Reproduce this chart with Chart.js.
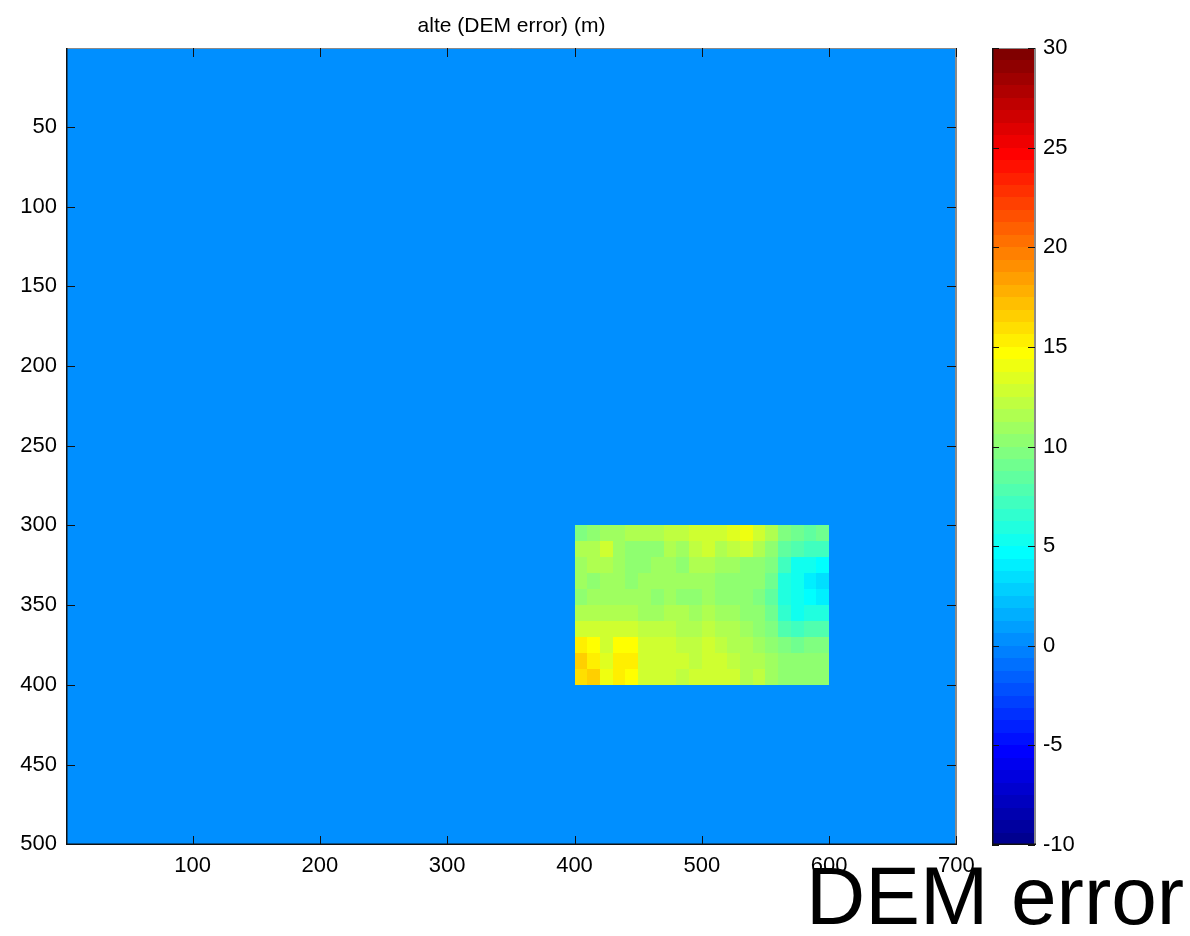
<!DOCTYPE html>
<html>
<head>
<meta charset="utf-8">
<script src="https://cdn.jsdelivr.net/npm/chart.js@4/dist/chart.umd.min.js"></script>
<style>
html,body{margin:0;padding:0;background:#fff;}
#wrap{position:relative;width:1190px;height:936px;overflow:hidden;background:#fff;}
#main{position:absolute;left:0;top:0;}
#cbar{position:absolute;left:980px;top:0;}
#big{position:absolute;left:806px;top:855px;font-family:"Liberation Sans",Arial,sans-serif;font-size:82px;line-height:82px;color:#000;white-space:nowrap;}
</style>
</head>
<body>
<div id="wrap">
<canvas id="main" width="1190" height="936"></canvas>
<canvas id="cbar" width="210" height="936"></canvas>
<div id="big">DEM error</div>
</div>
<script>
// ---------- data ----------
const chartTitle = "alte (DEM error) (m)";
const xTicks = [100, 200, 300, 400, 500, 600, 700];
const yTicks = [50, 100, 150, 200, 250, 300, 350, 400, 450, 500];
const cbTicks = [-10, -5, 0, 5, 10, 15, 20, 25, 30];
const cbMin = -10, cbMax = 30;

// full grid (columns 1..700, rows 1..500) filled with the background value
const gridCols = [1, 700];
const gridRows = [1, 500];
const backgroundValue = 0;

// patch of DEM error, cell centres
const patchColCenters = [405,415,425,435,445,455,465,475,485,495,505,515,525,535,545,555,565,575,585,595];
const patchRowCenters = [305,315,325,335,345,355,365,375,385,395];
const patchRow0 = [9.5,10.5,11,11,11.5,11.5,11.5,12,12,12.5, 12.5,12.5,13.5,14,12.5,11.5,9.5,9,8.5,9];
const patchRow1 = [11.5,11.5,12.5,11,10.5,10,10.5,11.5,11,12, 12.5,11.5,12,13,11.5,10.5,8.5,7.5,7,7];
const patchRow2 = [11,11.5,11.5,11,10.5,10.5,11,11,10.5,11.5, 11.5,11,11,10.5,10.5,9.5,7,5.5,5,4.5];
const patchRow3 = [11,10.5,11,11,10.5,11,11,11,11,11, 11,10.5,10.5,10,10,9,6,5,4,3.5];
const patchRow4 = [10.5,11,11,11,11,11,10.5,11,10.5,10.5, 11,10.5,10.5,10,9.5,8.5,6,5,4.5,4];
const patchRow5 = [11.5,11.5,11.5,11.5,11.5,11,11,11.5,11.5,11, 11.5,11,11,10.5,10,9,6.5,5,6,6];
const patchRow6 = [13,13,12.5,12.5,12.5,12,12,12,11.5,11.5, 12,11.5,11.5,11,10.5,9.5,8,7,7.5,8];
const patchRow7 = [15.5,14.5,13,14.5,14.5,13,12.5,12.5,12,12, 12.5,12,11.5,11.5,11,10.5,9.5,9,9.5,9.5];
const patchRow8 = [16.5,15.5,13.5,15,15,13,12.5,12.5,12.5,12, 13,12.5,12,11.5,11.5,11,10.5,10,10,10.5];
const patchRow9 = [16,16.5,14,15,14.5,13,13,12.5,12,12.5, 13,12.5,12.5,11.5,12,11,10.5,10.5,10.5,10.5];
const patchValues = [patchRow0,patchRow1,patchRow2,patchRow3,patchRow4,patchRow5,patchRow6,patchRow7,patchRow8,patchRow9];

// ---------- jet colormap (64 levels, MATLAB style) ----------
function jetRow(k){
  const K = k + 1;
  const u = j => j <= 16 ? j/16 : (j <= 31 ? 1 : (48 - j)/16);
  const g = (K >= 9 && K <= 55) ? u(K - 8) : 0;
  const r = (K >= 25) ? u(K - 24) : 0;
  const b = (K <= 39) ? u(K + 8) : 0;
  return 'rgb(' + Math.round(r*255) + ',' + Math.round(g*255) + ',' + Math.round(b*255) + ')';
}
function colorFor(v){
  let k = Math.floor((v - cbMin) / (cbMax - cbMin) * 64);
  if (k < 0) k = 0; if (k > 63) k = 63;
  return jetRow(k);
}

// ---------- build cells ----------
function edgesFrom(centers){
  const e = [];
  for (let i = 0; i < centers.length; i++){
    const prev = i > 0 ? centers[i-1] : centers[i] - (centers[1] - centers[0]);
    e.push((prev + centers[i]) / 2);
  }
  const n = centers.length;
  e.push(centers[n-1] + (centers[n-1] - centers[n-2]) / 2);
  return e;
}
const cells = [];
cells.push({x0: gridCols[0]-0.5, x1: gridCols[1]+0.5, y0: gridRows[0]-0.5, y1: gridRows[1]+0.5, v: backgroundValue});
const pxE = edgesFrom(patchColCenters), pyE = edgesFrom(patchRowCenters);
patchValues.forEach((row, i) => row.forEach((v, j) => {
  cells.push({x0: pxE[j], x1: pxE[j+1], y0: pyE[i], y1: pyE[i+1], v: v, x: patchColCenters[j], y: patchRowCenters[i]});
}));

const FONT = {family: '"Liberation Sans", Arial, sans-serif', size: 22};

function drawFrame(ctx, a){
  ctx.lineWidth = 1;
  ctx.strokeStyle = '#8a8a8a';
  ctx.beginPath();
  ctx.moveTo(a.left, a.top + 0.5); ctx.lineTo(a.right, a.top + 0.5);
  ctx.stroke();
  ctx.lineWidth = 2;
  ctx.beginPath();
  ctx.moveTo(a.right - 1, a.top); ctx.lineTo(a.right - 1, a.bottom);
  ctx.stroke();
  ctx.strokeStyle = '#111';
  ctx.lineWidth = 1.5;
  ctx.beginPath();
  ctx.moveTo(a.left + 0.75, a.top); ctx.lineTo(a.left + 0.75, a.bottom - 0.75); ctx.lineTo(a.right, a.bottom - 0.75);
  ctx.stroke();
}

// ---------- main heatmap ----------
const heatmapPlugin = {
  id: 'heatmap',
  beforeDatasetsDraw(chart){
    const {ctx, chartArea: a, scales: {x, y}} = chart;
    ctx.save();
    ctx.beginPath(); ctx.rect(a.left, a.top, a.right - a.left, a.bottom - a.top); ctx.clip();
    chart.data.datasets[0].data.forEach(c => {
      const l = Math.round(x.getPixelForValue(c.x0)), r = Math.round(x.getPixelForValue(c.x1));
      const t = Math.round(y.getPixelForValue(c.y0)), b = Math.round(y.getPixelForValue(c.y1));
      ctx.fillStyle = colorFor(c.v);
      ctx.fillRect(Math.min(l,r), Math.min(t,b), Math.abs(r-l), Math.abs(b-t));
    });
    ctx.restore();
  },
  afterDraw(chart){
    const {ctx, chartArea: a, scales: {x, y}} = chart;
    ctx.save();
    drawFrame(ctx, a);
    const L = 9;
    ctx.strokeStyle = '#111'; ctx.lineWidth = 1;
    ctx.beginPath();
    xTicks.forEach(v => {
      const p = Math.round(x.getPixelForValue(v)) + 0.5;
      ctx.moveTo(p, a.bottom); ctx.lineTo(p, a.bottom - L);
      ctx.moveTo(p, a.top); ctx.lineTo(p, a.top + L);
    });
    yTicks.forEach(v => {
      const p = Math.round(y.getPixelForValue(v)) + 0.5;
      ctx.moveTo(a.left, p); ctx.lineTo(a.left + L, p);
      ctx.moveTo(a.right - 1, p); ctx.lineTo(a.right - 1 - L, p);
    });
    ctx.stroke();
    ctx.restore();
  }
};

new Chart(document.getElementById('main'), {
  type: 'scatter',
  data: {datasets: [{label: chartTitle, data: cells, pointRadius: 0, pointHoverRadius: 0, showLine: false}]},
  options: {
    responsive: false, animation: false,
    layout: {padding: {left: 0, right: 233, top: 0, bottom: 51}},
    plugins: {
      legend: {display: false}, tooltip: {enabled: false},
      title: {display: true, text: chartTitle, fullSize: false, color: '#000',
        font: {family: FONT.family, size: 21, weight: 'normal', lineHeight: 1},
        padding: {top: 16, bottom: 11}}
    },
    scales: {
      x: {type: 'linear', min: 0.5, max: 700.5,
        afterBuildTicks: s => { s.ticks = xTicks.map(v => ({value: v})); },
        afterFit: s => { s.height = 40; },
        grid: {display: false, drawTicks: false}, border: {display: false},
        ticks: {color: '#000', font: FONT, padding: 8, maxRotation: 0, autoSkip: false}},
      y: {type: 'linear', reverse: true, min: 0.5, max: 500.5,
        afterBuildTicks: s => { s.ticks = yTicks.map(v => ({value: v})); },
        afterFit: s => { s.width = 66; },
        grid: {display: false, drawTicks: false}, border: {display: false},
        ticks: {color: '#000', font: FONT, padding: 9, autoSkip: false}}
    }
  },
  plugins: [heatmapPlugin]
});

// ---------- colorbar ----------
const cbPlugin = {
  id: 'cbframe',
  afterDraw(chart){
    const {ctx, chartArea: a, scales: {y}} = chart;
    ctx.save();
    drawFrame(ctx, a);
    const L = 7;
    ctx.strokeStyle = '#111'; ctx.lineWidth = 1;
    ctx.beginPath();
    cbTicks.forEach(v => {
      const p = Math.round(y.getPixelForValue(v)) + 0.5;
      ctx.moveTo(a.left, p); ctx.lineTo(a.left + L, p);
      ctx.moveTo(a.right - 1, p); ctx.lineTo(a.right - 1 - L, p);
    });
    ctx.stroke();
    ctx.restore();
  }
};

new Chart(document.getElementById('cbar'), {
  type: 'bar',
  data: {labels: ['colorbar'], datasets: [{
    data: [[cbMin, cbMax]],
    barPercentage: 1, categoryPercentage: 1, borderWidth: 0,
    backgroundColor: (c) => {
      const a = c.chart.chartArea; if (!a) return null;
      const g = c.chart.ctx.createLinearGradient(0, a.bottom, 0, a.top);
      for (let i = 0; i < 64; i++){
        const col = jetRow(i);
        g.addColorStop(i/64, col);
        g.addColorStop(Math.min(1, (i+1)/64 - 1e-6), col);
      }
      return g;
    }
  }]},
  options: {
    responsive: false, animation: false,
    layout: {padding: {left: 12, right: 0, top: 48, bottom: 91}},
    plugins: {legend: {display: false}, tooltip: {enabled: false}},
    scales: {
      x: {display: false},
      y: {position: 'right', min: cbMin, max: cbMax,
        afterBuildTicks: s => { s.ticks = cbTicks.map(v => ({value: v})); },
        afterFit: s => { s.width = 154; },
        grid: {display: false, drawTicks: false}, border: {display: false},
        ticks: {color: '#000', font: FONT, padding: 7, autoSkip: false}}
    }
  },
  plugins: [cbPlugin]
});
</script>
</body>
</html>
